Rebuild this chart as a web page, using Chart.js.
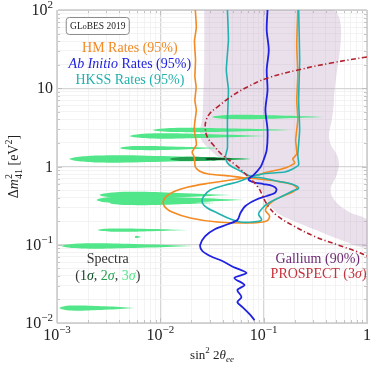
<!DOCTYPE html>
<html>
<head>
<meta charset="utf-8">
<script src="https://cdn.jsdelivr.net/npm/chart.js@4.4.1/dist/chart.umd.min.js"></script>
<style>
  html, body { margin: 0; padding: 0; background: #fff; }
  #chart { display: block; }
</style>
</head>
<body>
<canvas id="chart" width="374" height="369"></canvas>
<script>
// Axis ranges and decade tick labels
const xTickValues = [0.001, 0.01, 0.1, 1];
const xTickBase = ['10', '10', '10', '1'];
const xTickExp = ['\u22123', '\u22122', '\u22121', ''];
const yTickValues = [0.01, 0.1, 1, 10, 100];
const yTickBase = ['10', '10', '1', '10', '10'];
const yTickExp = ['\u22122', '\u22121', '', '', '2'];

// Rate contours [sin^2 2theta, dm2]
const hmUpper = [
  [0.0218, 100], [0.0223, 60], [0.0214, 40], [0.0219, 22.9], [0.0216, 14], [0.0222, 10.4],
  [0.0216, 7], [0.0223, 5.27], [0.0215, 3.6], [0.0213, 2.93], [0.0221, 2.2], [0.0223, 1.88],
  [0.0203, 1.53], [0.0213, 1.32], [0.0218, 0.986], [0.0238, 0.876], [0.0291, 0.802],
  [0.0477, 0.756], [0.0666, 0.713], [0.0871, 0.778], [0.109, 0.851], [0.136, 0.902],
  [0.171, 0.986], [0.2, 1.11], [0.191, 1.25], [0.209, 1.45], [0.204, 2.18], [0.214, 3.93],
  [0.209, 7.08], [0.214, 14.8], [0.209, 35.7], [0.214, 100]
];
const hmLower = [
  [0.0666, 0.713], [0.0477, 0.672], [0.0304, 0.615], [0.0186, 0.547], [0.0133, 0.472],
  [0.0109, 0.384], [0.0109, 0.313], [0.013, 0.262], [0.0195, 0.22], [0.0356, 0.195],
  [0.0746, 0.19], [0.107, 0.201], [0.114, 0.233], [0.104, 0.278], [0.117, 0.342],
  [0.146, 0.408], [0.191, 0.472], [0.209, 0.531], [0.183, 0.597], [0.131, 0.653],
  [0.0892, 0.692], [0.0666, 0.713]
];
const hkssUpper = [
  [0.0446, 100], [0.0456, 41.4], [0.0435, 17.1], [0.0456, 9.5], [0.0446, 3.93], [0.0446, 1.72],
  [0.0426, 1.32], [0.0446, 1.11], [0.0497, 0.986], [0.057, 0.902], [0.0746, 0.756],
  [0.0976, 0.802], [0.122, 0.826], [0.16, 0.851], [0.191, 0.929], [0.218, 1.05],
  [0.214, 1.4], [0.223, 2.93], [0.218, 7.08], [0.223, 22.9], [0.218, 100]
];
const hkssLower = [
  [0.0746, 0.734], [0.0557, 0.634], [0.0426, 0.58], [0.0304, 0.501], [0.026, 0.408],
  [0.0255, 0.342], [0.0285, 0.295], [0.0356, 0.255], [0.0477, 0.213], [0.0596, 0.195],
  [0.078, 0.195], [0.0955, 0.207], [0.0892, 0.247], [0.0976, 0.295], [0.112, 0.342],
  [0.146, 0.408], [0.191, 0.486], [0.218, 0.531], [0.187, 0.597], [0.133, 0.653],
  [0.0976, 0.713], [0.0746, 0.734]
];
const abInitio = [
  [0.109, 100], [0.107, 55.5], [0.112, 30.8], [0.107, 17.1], [0.109, 9.5], [0.104, 5.27],
  [0.109, 2.93], [0.107, 1.63], [0.0998, 1.21], [0.0933, 0.986], [0.0798, 0.778],
  [0.0713, 0.692], [0.078, 0.634], [0.0998, 0.597], [0.122, 0.563], [0.133, 0.516],
  [0.128, 0.458], [0.107, 0.42], [0.0834, 0.373], [0.0666, 0.313], [0.0596, 0.255],
  [0.0557, 0.207], [0.0456, 0.184], [0.034, 0.159], [0.0272, 0.129], [0.0243, 0.0993],
  [0.0255, 0.0832], [0.0304, 0.0718], [0.0398, 0.0619], [0.0509, 0.052], [0.0682, 0.0435],
  [0.0521, 0.0376], [0.0652, 0.0306], [0.0557, 0.0264], [0.061, 0.0215], [0.0557, 0.0185],
  [0.0623, 0.016], [0.073, 0.013], [0.0815, 0.0109]
];
const prospect = [
  [1.0, 25.1], [0.448, 21.0], [0.214, 17.1], [0.109, 13.5], [0.0697, 10.4], [0.0477, 7.73],
  [0.0356, 5.75], [0.0304, 4.83], [0.0278, 3.93], [0.0272, 3.1], [0.0285, 2.38], [0.0326, 1.88],
  [0.0398, 1.4], [0.0533, 1.05], [0.0713, 0.734], [0.0892, 0.531], [0.102, 0.373],
  [0.112, 0.304], [0.136, 0.233], [0.195, 0.174], [0.306, 0.129], [0.524, 0.0993],
  [0.818, 0.0808], [1.0, 0.0718]
];
const gallium = [
  [0.0266, 100], [0.0266, 22.9], [0.026, 7.08], [0.0255, 4.17], [0.0243, 2.93], [0.0249, 2.18],
  [0.0304, 1.63], [0.0398, 1.21], [0.0557, 0.902], [0.078, 0.634], [0.0998, 0.458],
  [0.114, 0.322], [0.14, 0.247], [0.195, 0.201], [0.32, 0.154], [0.56, 0.115], [1.0, 0.0936],
  [1.0, 0.207], [0.7, 0.255], [0.536, 0.322], [0.457, 0.42], [0.448, 0.547], [0.5, 0.734],
  [0.536, 1.05], [0.512, 1.4], [0.448, 1.88], [0.428, 2.53], [0.457, 3.93], [0.479, 7.08],
  [0.479, 100], [0.0266, 100]
];

// Spectra islands (outline points)
const spectra3 = [
  [[0.383, 4.29], [0.142, 4.47], [0.0462, 4.55], [0.0318, 4.29], [0.0462, 4.04], [0.142, 4.12], [0.383, 4.29]],
  [[0.183, 2.93], [0.0536, 3.05], [0.01345, 3.11], [0.00849, 2.93], [0.01345, 2.76], [0.0536, 2.81], [0.183, 2.93]],
  [[0.104, 2.45], [0.0311, 2.58], [0.008, 2.64], [0.00507, 2.45], [0.008, 2.28], [0.0311, 2.33], [0.104, 2.45]],
  [[0.0407, 1.72], [0.0162, 1.792], [0.00574, 1.825], [0.00406, 1.72], [0.00574, 1.621], [0.0162, 1.651], [0.0407, 1.72]],
  [[0.078, 1.25], [0.0153, 1.344], [0.00244, 1.385], [0.00132, 1.25], [0.00244, 1.128], [0.0153, 1.163], [0.078, 1.25]],
  [[0.0477, 0.432], [0.01486, 0.46], [0.00401, 0.472], [0.00259, 0.432], [0.00401, 0.396], [0.01486, 0.406], [0.0477, 0.432]],
  [[0.0637, 0.373], [0.0172, 0.401], [0.00395, 0.413], [0.00242, 0.373], [0.00395, 0.337], [0.0172, 0.347], [0.0637, 0.373]],
  [[0.034, 0.342], [0.0133, 0.356], [0.00461, 0.363], [0.00324, 0.342], [0.00461, 0.322], [0.0133, 0.328], [0.034, 0.342]],
  [[0.0186, 0.154], [0.0083, 0.159], [0.00335, 0.161], [0.00248, 0.154], [0.00335, 0.147], [0.0083, 0.149], [0.0186, 0.154]],
  [[0.00649, 0.126], [0.00621, 0.128], [0.0058, 0.13], [0.00567, 0.126], [0.0058, 0.122], [0.00621, 0.124], [0.00649, 0.126]],
  [[0.0208, 0.0964], [0.00643, 0.1015], [0.00172, 0.1037], [0.00111, 0.0964], [0.00172, 0.0896], [0.00643, 0.0915], [0.0208, 0.0964]],
  [[0.00567, 0.0155], [0.0029, 0.01632], [0.00136, 0.01668], [0.00106, 0.0155], [0.00136, 0.0144], [0.0029, 0.01472], [0.00567, 0.0155]]
];
const spectra2 = [
  [[0.0746, 1.25], [0.0364, 1.303], [0.01625, 1.326], [0.0124, 1.25], [0.01625, 1.178], [0.0364, 1.2], [0.0746, 1.25]]
];
const spectra1 = [
  [[0.0497, 1.25], [0.0389, 1.281], [0.0298, 1.295], [0.0272, 1.25], [0.0298, 1.207], [0.0389, 1.22], [0.0497, 1.25]]
];

const ORANGE = '#f38a22';
const BLUE = '#1f22e0';
const TEAL = '#22b2ad';
const RED = '#b3232f';
const GREEN3 = '#52e68a';
const GREEN2 = '#23a04f';
const GREEN1 = '#0d4a22';
const SERIF = '"Liberation Serif", "DejaVu Serif", serif';
const font = (size, style) => `${style || ''} ${size}px ${SERIF}`.trim();

const toXY = (pts) => pts.map(([x, y]) => ({ x, y }));

function lineSet(pts, color, width, order, extra) {
  return Object.assign({
    data: toXY(pts), showLine: true, borderColor: color, borderWidth: width,
    pointRadius: 0, fill: false, tension: 0, order
  }, extra || {});
}

function islandSet(pts, color, order) {
  return {
    data: toXY(pts), showLine: true, borderWidth: 0, borderColor: color,
    backgroundColor: color, pointRadius: 0, fill: 'shape', tension: 0.4, order
  };
}

const datasets = [
  lineSet(prospect, RED, 1.6, 1, { borderDash: [5, 2.5, 1.2, 2.5], tension: 0.4 }),
  lineSet(abInitio, BLUE, 1.8, 2, { tension: 0.3 }),
  lineSet(hkssUpper, TEAL, 1.6, 3, { tension: 0.15 }),
  lineSet(hkssLower, TEAL, 1.6, 3, { tension: 0.35 }),
  lineSet(hmUpper, ORANGE, 1.6, 4, { tension: 0.15 }),
  lineSet(hmLower, ORANGE, 1.6, 4, { tension: 0.35 }),
  ...spectra1.map((p) => islandSet(p, GREEN1, 6)),
  ...spectra2.map((p) => islandSet(p, GREEN2, 7)),
  ...spectra3.map((p) => islandSet(p, GREEN3, 8)),
  { data: toXY(gallium), showLine: true, borderWidth: 0, backgroundColor: 'rgba(190, 160, 198, 0.33)',
    pointRadius: 0, fill: 'shape', tension: 0.3, order: 10 }
];

function isDecade(v) {
  const l = Math.log10(v);
  return Math.abs(l - Math.round(l)) < 1e-6;
}

function gridValues(fromExp, toExp) {
  const values = [];
  for (let e = fromExp; e < toExp; e++) {
    for (let m = 1; m < 10; m++) values.push(+(m * Math.pow(10, e)).toPrecision(3));
  }
  values.push(Math.pow(10, toExp));
  return values;
}

function logAxis(min, max, fromExp, toExp) {
  return {
    type: 'logarithmic', min, max,
    afterBuildTicks: (scale) => { scale.ticks = gridValues(fromExp, toExp).map((v) => ({ value: v })); },
    ticks: { display: false },
    grid: {
      drawTicks: false,
      color: (ctx) => (ctx.tick && isDecade(ctx.tick.value) ? '#d6d6d6' : '#f0f0f0'),
      lineWidth: (ctx) => (ctx.tick && isDecade(ctx.tick.value) ? 1.3 : 0.8)
    },
    border: { color: '#9c9c9c', width: 1 }
  };
}

// draws a run of text pieces: {t, f, c, dy, stay}
function drawRich(ctx, parts, x, y, align) {
  let width = 0;
  parts.forEach((p) => { ctx.font = p.f; if (!p.stay) width += ctx.measureText(p.t).width; });
  let cx = align === 'right' ? x - width : (align === 'left' ? x : x - width / 2);
  parts.forEach((p) => {
    ctx.font = p.f;
    ctx.fillStyle = p.c || '#222';
    ctx.fillText(p.t, cx, y + (p.dy || 0));
    if (!p.stay) cx += ctx.measureText(p.t).width;
  });
}

const annotations = [
  { x: 0.00507, y: 32.7, parts: [{ t: 'HM Rates (95%)', f: font(14), c: ORANGE }] },
  { x: 0.00507, y: 21.0, parts: [{ t: 'Ab Initio', f: font(14, 'italic'), c: BLUE }, { t: ' Rates (95%)', f: font(14), c: BLUE }] },
  { x: 0.00507, y: 12.75, parts: [{ t: 'HKSS Rates (95%)', f: font(14), c: TEAL }] },
  { x: 0.0031, y: 0.0658, parts: [{ t: 'Spectra', f: font(14), c: '#333' }] },
  { x: 0.0031, y: 0.0399, parts: [
    { t: '(', f: font(14), c: '#333' }, { t: '1', f: font(14), c: GREEN1 }, { t: '\u03c3', f: font(14, 'italic'), c: GREEN1 },
    { t: ', ', f: font(14), c: '#333' }, { t: '2', f: font(14), c: GREEN2 }, { t: '\u03c3', f: font(14, 'italic'), c: GREEN2 },
    { t: ', ', f: font(14), c: '#333' }, { t: '3', f: font(14), c: GREEN3 }, { t: '\u03c3', f: font(14, 'italic'), c: GREEN3 },
    { t: ')', f: font(14), c: '#333' }] },
  { x: 0.334, y: 0.0658, parts: [{ t: 'Gallium (90%)', f: font(14), c: '#6e2a72' }] },
  { x: 0.34, y: 0.0423, parts: [{ t: 'PROSPECT (3', f: font(14), c: '#c4323c' }, { t: '\u03c3', f: font(14, 'italic'), c: '#c4323c' }, { t: ')', f: font(14), c: '#c4323c' }] }
];
const globesBox = { x: 0.00248, y: 62.5, text: 'GLoBES 2019' };

const framePlugin = {
  id: 'frameTicks',
  beforeDatasetsDraw(chart) {
    const { ctx, chartArea: a, scales } = chart;
    ctx.save();
    ctx.strokeStyle = '#b8b8b8';
    ctx.lineWidth = 0.8;
    ctx.beginPath();
    gridValues(-3, 0).forEach((v) => {
      const px = Math.round(scales.x.getPixelForValue(v)) + 0.5;
      const len = isDecade(v) ? 5 : 3;
      ctx.moveTo(px, a.bottom); ctx.lineTo(px, a.bottom - len);
      ctx.moveTo(px, a.top); ctx.lineTo(px, a.top + len);
    });
    gridValues(-2, 2).forEach((v) => {
      const py = Math.round(scales.y.getPixelForValue(v)) + 0.5;
      const len = isDecade(v) ? 5 : 3;
      ctx.moveTo(a.left, py); ctx.lineTo(a.left + len, py);
      ctx.moveTo(a.right, py); ctx.lineTo(a.right - len, py);
    });
    ctx.stroke();
    ctx.strokeStyle = '#cfcfcf';
    ctx.lineWidth = 1;
    ctx.strokeRect(a.left + 0.5, a.top + 0.5, a.right - a.left, a.bottom - a.top);
    ctx.restore();
  }
};

const textPlugin = {
  id: 'texts',
  afterDraw(chart) {
    const { ctx, chartArea: a, scales } = chart;
    ctx.save();
    ctx.textBaseline = 'alphabetic';
    // tick labels
    xTickValues.forEach((v, i) => {
      const px = scales.x.getPixelForValue(v);
      drawRich(ctx, [{ t: xTickBase[i], f: font(16) }, { t: xTickExp[i], f: font(11), dy: -7 }], px, a.bottom + 17, 'center');
    });
    yTickValues.forEach((v, i) => {
      const py = scales.y.getPixelForValue(v);
      drawRich(ctx, [{ t: yTickBase[i], f: font(16) }, { t: yTickExp[i], f: font(11), dy: -7 }], a.left - 4, py + 5, 'right');
    });
    // x title
    drawRich(ctx, [
      { t: 'sin', f: font(13) }, { t: '2', f: font(9), dy: -6 }, { t: ' 2', f: font(13) },
      { t: '\u03b8', f: font(13, 'italic') }, { t: 'ee', f: font(9, 'italic'), dy: 3 }
    ], (a.left + a.right) / 2, a.bottom + 36, 'center');
    // y title
    ctx.save();
    ctx.translate(18, (a.top + a.bottom) / 2);
    ctx.rotate(-Math.PI / 2);
    drawRich(ctx, [
      { t: '\u0394', f: font(14) }, { t: 'm', f: font(14, 'italic') },
      { t: '2', f: font(10), dy: -6, stay: true }, { t: '41', f: font(10), dy: 4 },
      { t: ' [eV', f: font(14) }, { t: '2', f: font(10), dy: -6 }, { t: ']', f: font(14) }
    ], 0, 0, 'center');
    ctx.restore();
    // annotations
    annotations.forEach((an) => {
      drawRich(ctx, an.parts, scales.x.getPixelForValue(an.x), scales.y.getPixelForValue(an.y) + 4.5, 'center');
    });
    // GLoBES box
    const bx = scales.x.getPixelForValue(globesBox.x);
    const by = scales.y.getPixelForValue(globesBox.y);
    ctx.fillStyle = '#fff';
    ctx.strokeStyle = '#8a8a8a';
    ctx.lineWidth = 1;
    ctx.beginPath();
    ctx.roundRect(bx - 31.5, by - 8.5, 63, 17, 3);
    ctx.fill();
    ctx.stroke();
    drawRich(ctx, [{ t: 'GL', f: font(9.5), c: '#222' }, { t: 'o', f: font(8), c: '#222' }, { t: 'BES 2019', f: font(9.5), c: '#222' }], bx, by + 3.3, 'center');
    ctx.restore();
  }
};

new Chart(document.getElementById('chart').getContext('2d'), {
  type: 'scatter',
  data: { datasets },
  options: {
    responsive: false,
    animation: false,
    events: [],
    layout: { padding: { left: 57, right: 7, top: 10, bottom: 46 } },
    plugins: { legend: { display: false }, tooltip: { enabled: false } },
    scales: {
      x: logAxis(0.001, 1, -3, 0),
      y: logAxis(0.01, 100, -2, 2)
    }
  },
  plugins: [framePlugin, textPlugin]
});
</script>
</body>
</html>
